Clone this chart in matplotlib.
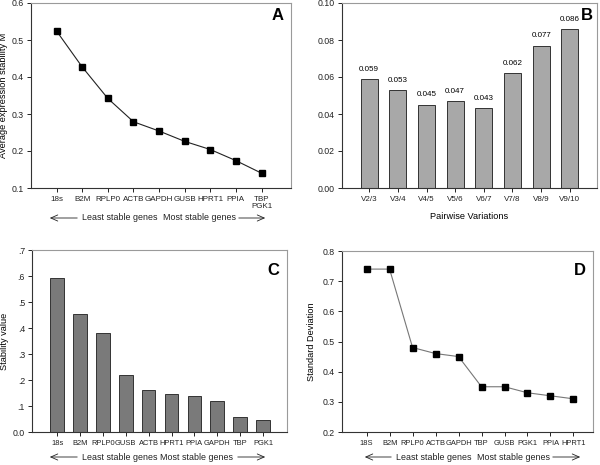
import matplotlib
matplotlib.use("Agg")
import matplotlib.pyplot as plt
from matplotlib.patches import FancyArrowPatch
import numpy as np

# panel A - geNorm average expression stability
genes_a = ["18s", "B2M", "RPLP0", "ACTB", "GAPDH", "GUSB", "HPRT1", "PPIA", "TBP\nPGK1"]
m_values = [0.524, 0.427, 0.342, 0.279, 0.254, 0.226, 0.204, 0.174, 0.140]

# panel B - pairwise variations
pairs = ["V2/3", "V3/4", "V4/5", "V5/6", "V6/7", "V7/8", "V8/9", "V9/10"]
pair_values = [0.059, 0.053, 0.045, 0.047, 0.043, 0.062, 0.077, 0.086]
pair_labels = ["0.059", "0.053", "0.045", "0.047", "0.043", "0.062", "0.077", "0.086"]

# panel C - NormFinder stability value
genes_c = ["18s", "B2M", "RPLP0", "GUSB", "ACTB", "HPRT1", "PPIA", "GAPDH", "TBP", "PGK1"]
stab_values = [0.591, 0.453, 0.380, 0.219, 0.160, 0.145, 0.140, 0.119, 0.057, 0.046]

# panel D - BestKeeper standard deviation
genes_d = ["18S", "B2M", "RPLP0", "ACTB", "GAPDH", "TBP", "GUSB", "PGK1", "PPIA", "HPRT1"]
sd_values = [0.74, 0.74, 0.48, 0.46, 0.45, 0.35, 0.35, 0.33, 0.32, 0.31]

plt.rcParams['font.family'] = ['Liberation Sans', 'DejaVu Sans']

W, H = 600.0, 465.0
fig = plt.figure(figsize=(6, 4.65), dpi=100)

def box(l, t, r, b):
    return [l / W, 1 - b / H, (r - l) / W, (b - t) / H]

def style(ax, xsize):
    for s in ['left', 'bottom']:
        ax.spines[s].set_color('#333333')
        ax.spines[s].set_linewidth(0.8)
    for s in ['top', 'right']:
        ax.spines[s].set_color('#9a9a9a')
        ax.spines[s].set_linewidth(0.8)
    ax.tick_params(direction='out', length=3, width=0.7, labelsize=6.3, colors='#222222', pad=2)
    ax.tick_params(axis='x', labelsize=xsize, pad=3)

def arrows(x1, x2, x4, x5, x6, y):
    yy = 1 - y / H
    fig.text(x2 / W, yy, "Least stable genes", fontsize=6.4, va='center', ha='left', color='#222222')
    fig.text(x4 / W, yy, "Most stable genes", fontsize=6.4, va='center', ha='left', color='#222222')
    for a, b in [((x2 - 2) / W, x1 / W), (x5 / W, x6 / W)]:
        fig.patches.append(FancyArrowPatch((a, yy), (b, yy), transform=fig.transFigure,
                           arrowstyle='->,head_length=5,head_width=2.2', lw=0.6, color='#222222'))

# A
axA = fig.add_axes(box(31, 3, 291, 188))
xa = np.arange(1, len(m_values) + 1)
axA.plot(xa, m_values, color='#222222', lw=0.8, marker='s', ms=4.5, mfc='black', mec='black')
axA.set_xlim(0, 10.15)
axA.set_ylim(0.1, 0.6)
axA.set_yticks(np.arange(0.1, 0.61, 0.1))
axA.set_yticklabels(["%.1f" % v for v in np.arange(0.1, 0.61, 0.1)])
axA.set_xticks(xa)
axA.set_xticklabels(genes_a, linespacing=1.0)
axA.set_ylabel("Average expression stability M", fontsize=6.6)
axA.yaxis.set_label_coords(-0.088, 0.5)
axA.text(0.97, 0.93, "A", transform=axA.transAxes, ha='right', va='center', fontsize=12, fontweight='bold')
style(axA, 5.8)
arrows(47, 82, 163, 236, 268, 218)

# B
axB = fig.add_axes(box(342, 3, 597, 188))
xb = np.arange(1, len(pair_values) + 1)
axB.bar(xb, pair_values, width=0.6, color='#a8a8a8', edgecolor='#333333', lw=0.7)
for x, v, lab in zip(xb, pair_values, pair_labels):
    axB.annotate(lab, (x, v), xytext=(0, 4.5), textcoords='offset points', ha='center', va='bottom', fontsize=5.8)
axB.set_xlim(0.05, 8.95)
axB.set_ylim(0, 0.10)
axB.set_yticks(np.arange(0, 0.101, 0.02))
axB.set_yticklabels(["%.2f" % v for v in np.arange(0, 0.101, 0.02)])
axB.set_xticks(xb)
axB.set_xticklabels(pairs)
axB.set_xlabel("Pairwise Variations", fontsize=6.6, labelpad=6)
axB.text(0.985, 0.93, "B", transform=axB.transAxes, ha='right', va='center', fontsize=12, fontweight='bold')
style(axB, 5.8)

# C
axC = fig.add_axes(box(32, 250, 287, 432))
xc = np.arange(1, len(stab_values) + 1)
axC.bar(xc, stab_values, width=0.6, color='#7a7a7a', edgecolor='#333333', lw=0.7)
axC.set_xlim(-0.1, 11.05)
axC.set_ylim(0, 0.7)
axC.set_yticks(np.arange(0, 0.71, 0.1))
axC.set_yticklabels(["0.0", ".1", ".2", ".3", ".4", ".5", ".6", ".7"])
axC.set_xticks(xc)
axC.set_xticklabels(genes_c)
axC.set_ylabel("Stability value", fontsize=6.6)
axC.yaxis.set_label_coords(-0.09, 0.5)
axC.text(0.97, 0.89, "C", transform=axC.transAxes, ha='right', va='center', fontsize=12, fontweight='bold')
style(axC, 5.4)
arrows(47, 82, 160, 235, 268, 457)

# D
axD = fig.add_axes(box(342, 251, 593, 432))
xd = np.arange(1, len(sd_values) + 1)
axD.plot(xd, sd_values, color='#777777', lw=0.8, marker='s', ms=4, mfc='black', mec='black')
axD.set_xlim(-0.07, 10.85)
axD.set_ylim(0.2, 0.8)
axD.set_yticks(np.arange(0.2, 0.81, 0.1))
axD.set_yticklabels(["%.1f" % v for v in np.arange(0.2, 0.81, 0.1)])
axD.set_xticks(xd)
axD.set_xticklabels(genes_d)
axD.set_ylabel("Standard Deviation", fontsize=6.6)
axD.yaxis.set_label_coords(-0.104, 0.5)
axD.text(0.97, 0.89, "D", transform=axD.transAxes, ha='right', va='center', fontsize=12, fontweight='bold')
style(axD, 5.4)
arrows(362, 396, 477, 550, 583, 457)

fig.savefig("out.png", dpi=100)
